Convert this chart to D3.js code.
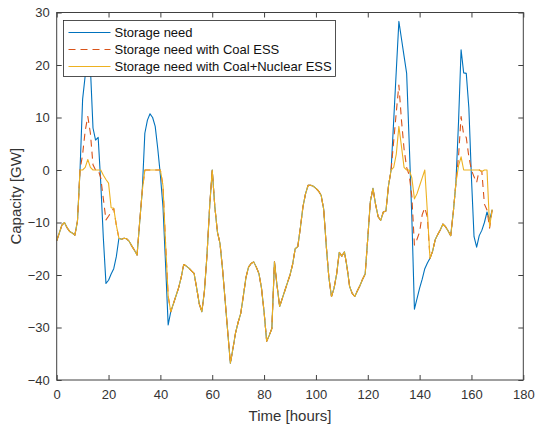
<!DOCTYPE html>
<html>
<head>
<meta charset="utf-8">
<script src="https://cdn.jsdelivr.net/npm/d3@7"></script>
<style>
body{margin:0;background:#fff}
svg{display:block;font-family:"Liberation Sans",Arial,sans-serif}
</style>
</head>
<body>
<svg id="chart" width="536" height="427"></svg>
<script>
// hourly values (GW)
const hours = d3.range(0, 169);

const storageNeed = [
 -13.5,-12.0,-10.5,-10.0,-11.0,-11.7,-12.0,-12.4,-9.8,0,
 13.5,18.0,22.0,19.5,8.0,5.7,6.2,-2.5,-13.0,-21.6,
 -21.0,-19.8,-18.8,-16.5,-13.0,-13.2,-13.0,-13.1,-13.6,-14.5,
 -15.3,-16.2,-10.0,-4.0,7.0,9.5,10.7,10.0,8.3,4.0,
 -1.0,-7.0,-18.0,-29.5,-27.0,-25.5,-24.0,-22.5,-20.5,-18.0,
 -18.3,-18.7,-19.2,-19.7,-22.5,-25.5,-27.0,-23.0,-16.0,-7.0,
 0,-7.0,-11.8,-14.0,-19.0,-25.0,-31.0,-36.8,-34.0,-31.0,
 -29.0,-27.3,-24.0,-20.5,-18.5,-17.8,-17.5,-18.5,-19.7,-22.5,
 -27.0,-32.6,-31.5,-30.2,-17.5,-22.0,-26.0,-24.5,-23.0,-21.5,
 -20.0,-18.0,-15.0,-14.6,-11.0,-7.0,-4.5,-2.9,-2.9,-3.1,
 -3.5,-4.0,-4.8,-7.5,-14.5,-20.5,-24.1,-22.5,-19.8,-15.7,
 -16.4,-15.6,-18.5,-22.2,-23.5,-24.1,-23.0,-22.0,-20.8,-19.8,
 -13.0,-6.0,-3.5,-6.5,-8.9,-9.6,-8.0,-7.8,-3.0,0,
 9.4,18.9,28.3,25.0,21.7,18.4,5.0,-9.0,-26.5,-24.5,
 -22.5,-20.8,-18.8,-17.7,-16.8,-15.5,-13.3,-12.3,-11.4,-10.3,
 -10.8,-11.6,-12.5,-8.0,-2.5,9.0,22.9,18.5,18.4,11.8,
 -1.5,-12.7,-14.7,-12.5,-11.5,-10.0,-8.0,-9.5,-7.6
];

const withCoal = [
 -13.5,-12.0,-10.5,-10.0,-11.0,-11.7,-12.0,-12.4,-9.8,0,
 3.0,7.5,10.2,7.0,1.0,0,0,-1.5,-5.5,-9.5,
 -8.8,-8.0,-7.3,-10.5,-13.0,-13.2,-13.0,-13.1,-13.6,-14.5,
 -15.3,-16.2,-10.0,-4.0,0,0,0,0,0,0,
 0,-3.0,-14.0,-24.0,-27.0,-25.5,-24.0,-22.5,-20.5,-18.0,
 -18.3,-18.7,-19.2,-19.7,-22.5,-25.5,-27.0,-23.0,-16.0,-7.0,
 0,-7.0,-11.8,-14.0,-19.0,-25.0,-31.0,-36.8,-34.0,-31.0,
 -29.0,-27.3,-24.0,-20.5,-18.5,-17.8,-17.5,-18.5,-19.7,-22.5,
 -27.0,-32.6,-31.5,-30.2,-17.5,-22.0,-26.0,-24.5,-23.0,-21.5,
 -20.0,-18.0,-15.0,-14.6,-11.0,-7.0,-4.5,-2.9,-2.9,-3.1,
 -3.5,-4.0,-4.8,-7.5,-14.5,-20.5,-24.1,-22.5,-19.8,-15.7,
 -16.4,-15.6,-18.5,-22.2,-23.5,-24.1,-23.0,-22.0,-20.8,-19.8,
 -13.0,-6.0,-3.5,-6.5,-8.9,-9.6,-8.0,-7.8,-3.0,0,
 5.5,11.0,16.2,9.5,4.0,0.5,-1.0,-5.0,-14.3,-13.2,
 -11.8,-8.5,-7.2,-9.0,-16.8,-15.5,-13.3,-12.3,-11.4,-10.3,
 -10.8,-11.6,-12.5,-8.0,-2.5,2.5,10.2,6.7,6.2,2.5,
 0,-1.3,-2.4,0,-0.3,-6.5,-7.6,-11.1,-7.6
];

const withCoalNuclear = [
 -13.5,-12.0,-10.5,-10.0,-11.0,-11.7,-12.0,-12.4,-9.8,0,
 0,0.5,2.0,0.5,0,0,0,0,-1.0,-1.8,
 -2.5,-7.2,-7.3,-10.5,-13.0,-13.2,-13.0,-13.1,-13.6,-14.5,
 -15.3,-16.2,-10.0,-4.0,0,0,0,0,0,0,
 0,-3.0,-14.0,-24.0,-27.0,-25.5,-24.0,-22.5,-20.5,-18.0,
 -18.3,-18.7,-19.2,-19.7,-22.5,-25.5,-27.0,-23.0,-16.0,-7.0,
 0,-7.0,-11.8,-14.0,-19.0,-25.0,-31.0,-36.8,-34.0,-31.0,
 -29.0,-27.3,-24.0,-20.5,-18.5,-17.8,-17.5,-18.5,-19.7,-22.5,
 -27.0,-32.6,-31.5,-30.2,-17.5,-22.0,-26.0,-24.5,-23.0,-21.5,
 -20.0,-18.0,-15.0,-14.6,-11.0,-7.0,-4.5,-2.9,-2.9,-3.1,
 -3.5,-4.0,-4.8,-7.5,-14.5,-20.5,-24.1,-22.5,-19.8,-15.7,
 -16.4,-15.6,-18.5,-22.2,-23.5,-24.1,-23.0,-22.0,-20.8,-19.8,
 -13.0,-6.0,-3.5,-6.5,-8.9,-9.6,-8.0,-7.8,-3.0,0,
 0.5,3.0,8.3,4.5,0.5,0,0,-1.5,-5.5,-4.5,
 -3.0,-1.5,0,-8.0,-16.8,-15.5,-13.3,-12.3,-11.4,-10.3,
 -10.8,-11.6,-12.5,-8.0,-2.5,0.8,2.5,0,0,0,
 0,0,0,0,-0.3,0,0,-10.8,-7.5
];

const seriesNames = ["Storage need", "Storage need with Coal ESS", "Storage need with Coal+Nuclear ESS"];
const seriesColors = ["#0072BD", "#D95319", "#EDB120"];
const xTicks = [0, 20, 40, 60, 80, 100, 120, 140, 160, 180];
const yTicks = [-40, -30, -20, -10, 0, 10, 20, 30];

const svg = d3.select("#chart");
const margin = {top: 12.5, left: 56.7, right: 12.7, bottom: 47};
const W = 536, H = 427;
const width = W - margin.left - margin.right;
const height = H - margin.top - margin.bottom;

const x = d3.scaleLinear().domain([0, 180]).range([0, width]);
const y = d3.scaleLinear().domain([-40, 30]).range([height, 0]);

const g = svg.append("g").attr("transform", "translate(" + margin.left + "," + margin.top + ")");

g.append("clipPath").attr("id", "clip")
  .append("rect").attr("width", width).attr("height", height);

const series = [storageNeed, withCoal, withCoalNuclear];
const line = d3.line().x((d, i) => x(hours[i])).y(d => y(d));

series.forEach(function(vals, k) {
  g.append("path")
    .datum(vals)
    .attr("clip-path", "url(#clip)")
    .attr("fill", "none")
    .attr("stroke", seriesColors[k])
    .attr("stroke-width", 1.1)
    .attr("stroke-linejoin", "round")
    .attr("stroke-dasharray", k == 1 ? "7,5" : null)
    .attr("d", line);
});

// axes, ticks inside like matlab
const axisColor = "#404040";
function styleAxis(sel) {
  sel.select(".domain").remove();
  sel.selectAll(".tick line").attr("stroke", axisColor);
  sel.selectAll(".tick text").attr("fill", "#333").style("font-size", "13px");
}
g.append("g").attr("transform", "translate(0," + height + ")")
  .call(d3.axisBottom(x).tickValues(xTicks).tickSizeInner(-5).tickSizeOuter(0).tickPadding(10))
  .call(styleAxis);
g.append("g")
  .call(d3.axisLeft(y).tickValues(yTicks).tickSizeInner(-5).tickSizeOuter(0).tickPadding(7))
  .call(styleAxis);
g.append("g")
  .call(d3.axisTop(x).tickValues(xTicks).tickSizeInner(-5).tickSizeOuter(0).tickFormat(""))
  .call(styleAxis);
g.append("g").attr("transform", "translate(" + width + ",0)")
  .call(d3.axisRight(y).tickValues(yTicks).tickSizeInner(-5).tickSizeOuter(0).tickFormat(""))
  .call(styleAxis);

g.append("rect")
  .attr("width", width).attr("height", height)
  .attr("fill", "none").attr("stroke", axisColor).attr("stroke-width", 1);

// axis labels
g.append("text")
  .attr("x", width / 2).attr("y", height + 41)
  .attr("text-anchor", "middle")
  .attr("fill", "#333").style("font-size", "15px")
  .text("Time [hours]");
g.append("text")
  .attr("transform", "translate(" + (-36) + "," + (height / 2) + ") rotate(-90)")
  .attr("text-anchor", "middle")
  .attr("fill", "#333").style("font-size", "15px")
  .text("Capacity [GW]");

// legend
const lg = svg.append("g").attr("transform", "translate(63.5,20.5)");
lg.append("rect")
  .attr("width", 272).attr("height", 56)
  .attr("fill", "#fff").attr("stroke", "#262626").attr("stroke-width", 0.8);
seriesNames.forEach(function(name, k) {
  const yy = 12 + k * 17;
  lg.append("line")
    .attr("x1", 5).attr("x2", 47).attr("y1", yy).attr("y2", yy)
    .attr("stroke", seriesColors[k]).attr("stroke-width", 1.1)
    .attr("stroke-dasharray", k == 1 ? "7,5" : null);
  lg.append("text")
    .attr("x", 51).attr("y", yy).attr("dy", "0.35em")
    .attr("fill", "#111").style("font-size", "13px")
    .text(name);
});
</script>
</body>
</html>
